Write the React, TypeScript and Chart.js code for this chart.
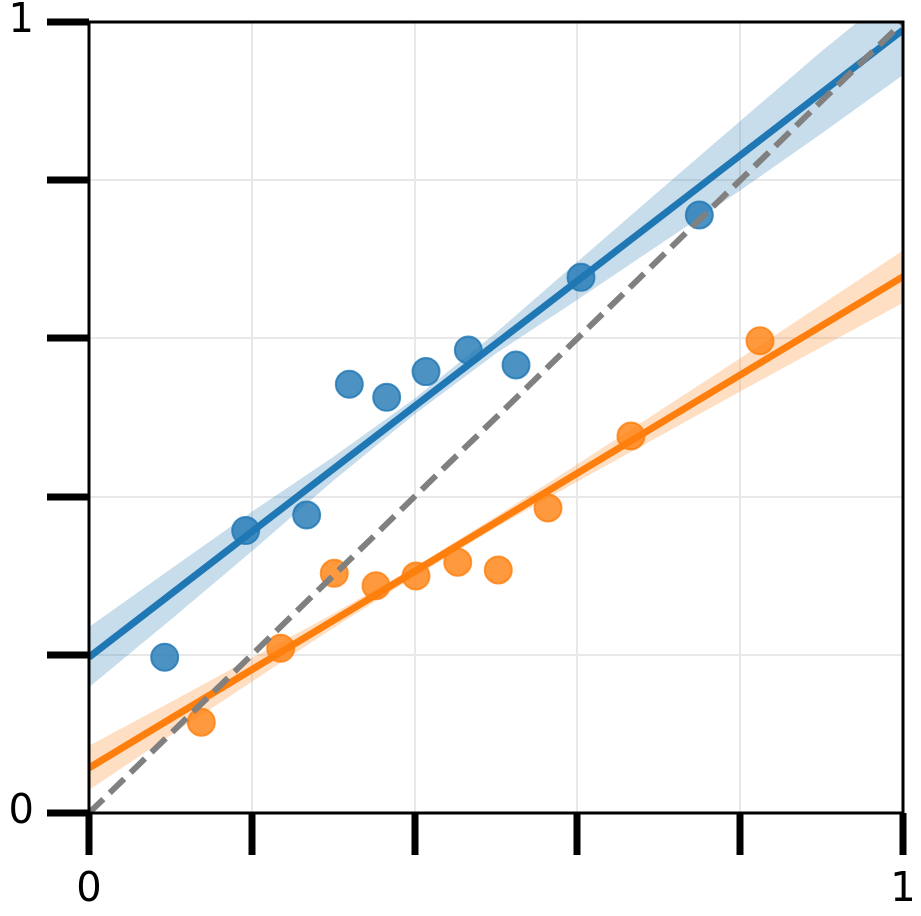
import React, { useEffect, useRef } from 'react';
import { Chart, registerables } from 'chart.js';

Chart.register(...registerables);

// Scatter points
const blueX = [0.093, 0.1925, 0.2674, 0.3198, 0.3657, 0.414, 0.466, 0.5246, 0.6044, 0.7498];
const blueY = [0.197, 0.357, 0.3767, 0.542, 0.5255, 0.558, 0.5853, 0.5664, 0.6772, 0.756];
const orangeX = [0.138, 0.2355, 0.3013, 0.3526, 0.4017, 0.453, 0.5028, 0.5639, 0.6658, 0.8243];
const orangeY = [0.1147, 0.2082, 0.303, 0.2874, 0.2996, 0.317, 0.3072, 0.3856, 0.4766, 0.5971];

// Regression lines (endpoints)
const fitX = [0, 1];
const blueFit = [0.197, 0.99];
const orangeFit = [0.057, 0.678];

// Confidence bands
const bandX = [0, 0.1, 0.2, 0.3, 0.4, 0.5, 0.6, 0.7, 0.8, 0.9, 1.0];
const blueUpper = [0.235, 0.308, 0.381, 0.45, 0.524, 0.607, 0.697, 0.786, 0.875, 0.963, 1.047];
const blueLower = [0.159, 0.244, 0.331, 0.42, 0.504, 0.581, 0.649, 0.718, 0.787, 0.859, 0.933];
const orangeUpper = [0.085, 0.14, 0.196, 0.252, 0.311, 0.375, 0.441, 0.508, 0.575, 0.643, 0.711];
const orangeLower = [0.029, 0.098, 0.166, 0.234, 0.299, 0.361, 0.419, 0.476, 0.533, 0.589, 0.645];

// Identity line
const diagX = [0, 1];
const diagY = [0, 1];

// Axis
const tickValues = [0, 0.2, 0.4, 0.6, 0.8, 1];
const tickLabels = ['0', '', '', '', '', '1'];

const toXY = (xs: number[], ys: number[]) => xs.map((x, i) => ({ x, y: ys[i] }));

const labelFor = (v: number) => {
  const idx = tickValues.findIndex((t) => Math.abs(t - v) < 1e-6);
  return idx >= 0 ? tickLabels[idx] : '';
};

export default function App() {
  const ref = useRef<HTMLCanvasElement>(null);

  useEffect(() => {
    const canvas = ref.current;
    if (!canvas) return;

    const spines = {
      id: 'spines',
      afterDraw(chart: any) {
        const { ctx, chartArea: a } = chart;
        ctx.save();
        ctx.strokeStyle = '#000';
        ctx.lineWidth = 3;
        ctx.strokeRect(a.left, a.top, a.right - a.left, a.bottom - a.top);
        ctx.restore();
      },
    };

    const tickFont = { family: 'DejaVu Sans', size: 40, lineHeight: 1 };
    const zeroPad = (s: any) => {
      s.paddingTop = 0;
      s.paddingBottom = 0;
      s.paddingLeft = 0;
      s.paddingRight = 0;
    };

    const pointStyle = (rgb: string) => ({
      type: 'scatter',
      backgroundColor: `rgba(${rgb},0.8)`,
      borderColor: `rgba(${rgb},0.8)`,
      borderWidth: 2,
      pointRadius: 13.5,
      showLine: false,
      order: 1,
    });

    const chart = new Chart(canvas, {
      type: 'line',
      data: {
        datasets: [
          {
            data: toXY(diagX, diagY),
            borderColor: '#808080',
            borderWidth: 6,
            borderDash: [20, 9],
            borderCapStyle: 'butt',
            pointRadius: 0,
            fill: false,
            order: 0,
          },
          { data: toXY(blueX, blueY), ...pointStyle('31,119,180') },
          { data: toXY(orangeX, orangeY), ...pointStyle('255,127,14') },
          {
            data: toXY(fitX, blueFit),
            borderColor: '#1f77b4',
            borderWidth: 7,
            pointRadius: 0,
            fill: false,
            order: 2,
          },
          {
            data: toXY(fitX, orangeFit),
            borderColor: '#ff7f0e',
            borderWidth: 7,
            pointRadius: 0,
            fill: false,
            order: 2,
          },
          {
            data: toXY(bandX, blueUpper),
            borderWidth: 0,
            borderColor: 'rgba(0,0,0,0)',
            pointRadius: 0,
            backgroundColor: 'rgba(31,119,180,0.25)',
            fill: 6,
            order: 3,
          },
          {
            data: toXY(bandX, blueLower),
            borderWidth: 0,
            borderColor: 'rgba(0,0,0,0)',
            pointRadius: 0,
            fill: false,
            order: 3,
          },
          {
            data: toXY(bandX, orangeUpper),
            borderWidth: 0,
            borderColor: 'rgba(0,0,0,0)',
            pointRadius: 0,
            backgroundColor: 'rgba(255,127,14,0.25)',
            fill: 8,
            order: 3,
          },
          {
            data: toXY(bandX, orangeLower),
            borderWidth: 0,
            borderColor: 'rgba(0,0,0,0)',
            pointRadius: 0,
            fill: false,
            order: 3,
          },
        ] as any,
      },
      options: {
        animation: false,
        responsive: false,
        devicePixelRatio: 1,
        layout: { padding: { top: 22, right: 18, left: 0, bottom: 0 } },
        plugins: {
          legend: { display: false },
          tooltip: { enabled: false },
        },
        scales: {
          x: {
            type: 'linear',
            min: 0,
            max: 1,
            ticks: {
              stepSize: 0.2,
              autoSkip: false,
              maxRotation: 0,
              callback: (v: any) => labelFor(Number(v)),
              font: tickFont,
              color: '#000',
              padding: 16,
            },
            grid: {
              color: '#e8e8e8',
              lineWidth: 2,
              tickLength: 42,
              tickWidth: 7,
              tickColor: '#000',
              drawTicks: true,
            },
            border: { display: false },
            afterFit: (s: any) => {
              s.height = 103;
              zeroPad(s);
            },
          },
          y: {
            type: 'linear',
            min: 0,
            max: 1,
            ticks: {
              stepSize: 0.2,
              autoSkip: false,
              callback: (v: any) => labelFor(Number(v)),
              font: tickFont,
              color: '#000',
              padding: 13,
            },
            grid: {
              color: '#e8e8e8',
              lineWidth: 2,
              tickLength: 42,
              tickWidth: 7,
              tickColor: '#000',
              drawTicks: true,
            },
            border: { display: false },
            afterFit: (s: any) => {
              s.width = 89;
              zeroPad(s);
            },
          },
        },
      } as any,
      plugins: [spines],
    });

    return () => chart.destroy();
  }, []);

  return (
    <div style={{ position: 'fixed', left: 0, top: 0, width: 921, height: 916, background: '#fff' }}>
      <canvas ref={ref} width={921} height={916} style={{ display: 'block' }} />
    </div>
  );
}
